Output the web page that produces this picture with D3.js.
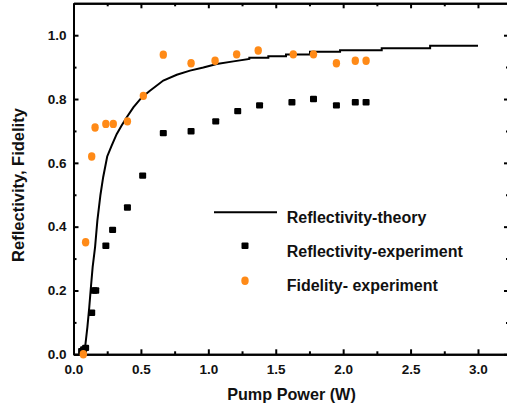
<!DOCTYPE html>
<html>
<head>
<meta charset="utf-8">
<script src="https://cdn.jsdelivr.net/npm/d3@7"></script>
<style>
  body { margin: 0; background: #fff; }
  text { font-family: Arial, "Liberation Sans", sans-serif; font-weight: bold; fill: #111; }
</style>
</head>
<body>
<div id="chart"></div>
<script>
// theory curve (incl. the small stair steps on the plateau)
const theoryX = [0.068, 0.085, 0.103, 0.117, 0.127, 0.142, 0.16, 0.177, 0.2, 0.22, 0.25, 0.283, 0.32, 0.357, 0.395, 0.444, 0.506, 0.567, 0.666, 0.766, 0.864, 0.963, 1.062, 1.186, 1.304,
  1.304, 1.445, 1.445, 1.576, 1.576, 1.754, 1.754, 1.977, 1.977, 2.286, 2.286, 2.645, 2.645, 3.0];
const theoryY = [0, 0.018, 0.085, 0.148, 0.2, 0.273, 0.336, 0.419, 0.5, 0.555, 0.62, 0.654, 0.69, 0.717, 0.743, 0.774, 0.805, 0.826, 0.858, 0.876, 0.889, 0.899, 0.91, 0.918, 0.9255,
  0.9296, 0.9296, 0.934, 0.934, 0.9393, 0.9393, 0.948, 0.948, 0.953, 0.953, 0.9593, 0.9593, 0.967, 0.967];

// reflectivity experiment (black squares)
const reflX = [0.06, 0.075, 0.09, 0.135, 0.15, 0.165, 0.24, 0.29, 0.40, 0.513, 0.666, 0.872, 1.055, 1.218, 1.38, 1.62, 1.78, 1.95, 2.09, 2.17];
const reflY = [0.01, 0.015, 0.02, 0.13, 0.2, 0.2, 0.34, 0.39, 0.46, 0.56, 0.693, 0.699, 0.73, 0.762, 0.78, 0.79, 0.80, 0.78, 0.79, 0.79];

// fidelity experiment (orange dots)
const fidX = [0.073, 0.09, 0.135, 0.16, 0.24, 0.295, 0.40, 0.518, 0.666, 0.872, 1.05, 1.21, 1.37, 1.63, 1.78, 1.95, 2.09, 2.17];
const fidY = [0.0, 0.351, 0.62, 0.711, 0.722, 0.722, 0.73, 0.81, 0.939, 0.912, 0.92, 0.94, 0.952, 0.94, 0.94, 0.912, 0.92, 0.92];

const xMajor = [0, 0.5, 1.0, 1.5, 2.0, 2.5, 3.0];
const xMinor = [0.25, 0.75, 1.25, 1.75, 2.25, 2.75];
const yMajor = [0, 0.2, 0.4, 0.6, 0.8, 1.0];
const yMinor = [0.1, 0.3, 0.5, 0.7, 0.9];

const legendLabels = ["Reflectivity-theory", "Reflectivity-experiment", "Fidelity- experiment"];

const W = 507, H = 413;
const orange = "#ff8a17";

const svg = d3.select("#chart").append("svg")
    .attr("width", W)
    .attr("height", H);

const x = d3.scaleLinear().domain([0, 3.23]).range([73.5, 509]);
const y = d3.scaleLinear().domain([0, 1.1]).range([354.3, 3.3]);

// axes: ticks point inward
function styleAxis(g) {
    g.select(".domain").attr("stroke", "#000").attr("stroke-width", 2);
    g.selectAll(".tick line").attr("stroke", "#000").attr("stroke-width", 2);
    g.selectAll(".tick text").attr("font-size", 13.5).attr("fill", "#111")
        .attr("font-family", "Arial, 'Liberation Sans', sans-serif").attr("font-weight", "bold");
}

svg.append("g").attr("transform", `translate(0,${y(0)})`)
    .call(d3.axisBottom(x).tickValues(xMajor).tickSize(-5).tickSizeOuter(0).tickPadding(10).tickFormat(d3.format(".1f")))
    .call(styleAxis);
svg.append("g").attr("transform", `translate(0,${y(0)})`)
    .call(d3.axisBottom(x).tickValues(xMinor).tickSize(-3).tickSizeOuter(0).tickFormat(""))
    .call(styleAxis);
svg.append("g").attr("transform", `translate(0,${y(1.1)})`)
    .call(d3.axisTop(x).tickValues(xMajor).tickSize(-5).tickSizeOuter(0).tickFormat(""))
    .call(styleAxis);
svg.append("g").attr("transform", `translate(0,${y(1.1)})`)
    .call(d3.axisTop(x).tickValues(xMinor).tickSize(-3).tickSizeOuter(0).tickFormat(""))
    .call(styleAxis);

svg.append("g").attr("transform", `translate(${x(0)},0)`)
    .call(d3.axisLeft(y).tickValues(yMajor).tickSize(-5).tickSizeOuter(0).tickPadding(7).tickFormat(d3.format(".1f")))
    .call(styleAxis);
svg.append("g").attr("transform", `translate(${x(0)},0)`)
    .call(d3.axisLeft(y).tickValues(yMinor).tickSize(-3).tickSizeOuter(0).tickFormat(""))
    .call(styleAxis);
svg.append("g").attr("transform", `translate(${x(3.23)},0)`)
    .call(d3.axisRight(y).tickValues(yMajor).tickSize(-5).tickSizeOuter(0).tickFormat(""))
    .call(styleAxis);
svg.append("g").attr("transform", `translate(${x(3.23)},0)`)
    .call(d3.axisRight(y).tickValues(yMinor).tickSize(-3).tickSizeOuter(0).tickFormat(""))
    .call(styleAxis);

// axis titles
svg.append("text")
    .attr("x", 291.5)
    .attr("y", 400)
    .attr("text-anchor", "middle")
    .attr("font-size", 16.2)
    .text("Pump Power (W)");

svg.append("text")
    .attr("transform", "translate(24,185) rotate(-90)")
    .attr("text-anchor", "middle")
    .attr("font-size", 16.5)
    .text("Reflectivity, Fidelity");

// theory line
const theory = theoryX.map((d, i) => [d, theoryY[i]]);
svg.append("path")
    .datum(theory)
    .attr("fill", "none")
    .attr("stroke", "#000")
    .attr("stroke-width", 2)
    .attr("stroke-linejoin", "miter")
    .attr("d", d3.line().x(d => x(d[0])).y(d => y(d[1])));

// markers
function square(g, cx, cy) {
    g.append("rect")
        .attr("x", cx - 3.5).attr("y", cy - 3.2)
        .attr("width", 7).attr("height", 6.4)
        .attr("rx", 1)
        .attr("fill", "#000");
}
function dot(g, cx, cy) {
    g.append("ellipse")
        .attr("cx", cx).attr("cy", cy)
        .attr("rx", 3.7).attr("ry", 4.2)
        .attr("fill", orange);
}

const marks = svg.append("g");
reflX.forEach((d, i) => square(marks, x(d), y(reflY[i])));
fidX.forEach((d, i) => dot(marks, x(d), y(fidY[i])));

// legend
const legend = svg.append("g");
legend.append("line")
    .attr("x1", 214).attr("x2", 277)
    .attr("y1", 212.3).attr("y2", 212.3)
    .attr("stroke", "#000").attr("stroke-width", 2);
square(legend, 245, 245.7);
dot(legend, 245, 280.7);
legend.selectAll("text.lab")
    .data(legendLabels)
    .enter().append("text")
    .attr("class", "lab")
    .attr("x", 286.7)
    .attr("y", (d, i) => 222.7 + i * 34)
    .attr("font-size", 16)
    .text(d => d);
</script>
</body>
</html>
